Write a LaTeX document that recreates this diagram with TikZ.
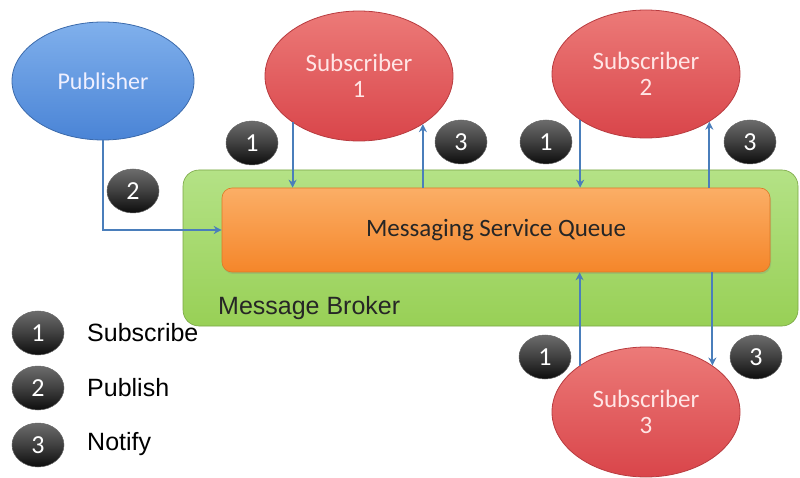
\documentclass[tikz,border=0pt]{standalone}
\usepackage{fontspec}
\setmainfont{Carlito}
\newfontfamily\arialf{Liberation Sans}
\usetikzlibrary{shapes.geometric,arrows.meta,shadows}
\definecolor{arrowblue}{HTML}{4A7EBB}
\definecolor{pubtop}{HTML}{80B0EC}
\definecolor{pubbot}{HTML}{4A84D6}
\definecolor{subtop}{HTML}{EC7A78}
\definecolor{subbot}{HTML}{D9454A}
\definecolor{grtop}{HTML}{B4E286}
\definecolor{grbot}{HTML}{98D056}
\definecolor{ortop}{HTML}{FBAE66}
\definecolor{orbot}{HTML}{F5862A}
\tikzset{
  pubell/.style={ellipse, draw=pubbot!80!black, line width=0.8pt, top color=pubtop, bottom color=pubbot,
    minimum width=182pt, minimum height=118pt, inner sep=0pt, text=white!94!blue, font=\fontsize{24}{26}\selectfont, align=center},
  subell/.style={ellipse, draw=subbot!85!black, line width=0.8pt, top color=subtop, bottom color=subbot,
    minimum width=188pt, minimum height=130pt, inner sep=0pt, text=white!90!red, font=\fontsize{25}{26}\selectfont, align=center},
  badge/.style={ellipse, draw=black!60, line width=0.5pt, top color=gray!85!black, bottom color=black!95,
    middle color=black!75, minimum width=52pt, minimum height=44pt, inner sep=0pt, text=white,
    font=\fontsize{26}{26}\selectfont},
  link/.style={draw=arrowblue, line width=2pt, -{Stealth[length=8pt,width=8pt]}},
  legtext/.style={anchor=west, font=\arialf\fontsize{25}{25}\selectfont, inner sep=0pt}
}
\begin{document}
\begin{tikzpicture}[x=1pt,y=-1pt]
\useasboundingbox (0,0) rectangle (800,478);
% broker
\node[draw=grbot!80!black, line width=0.6pt, rounded corners=16pt, top color=grtop, bottom color=grbot,
  minimum width=615pt, minimum height=156pt, inner sep=0pt] (broker) at (490.5,248) {};
\node[anchor=base west, font=\arialf\fontsize{25}{25}\selectfont, inner sep=0pt, text=black!85] (brokerlbl) at (218,314) {Message Broker};
% queue
\node[draw=orbot!90!black, line width=0.6pt, rounded corners=10pt, top color=ortop, bottom color=orbot,
  minimum width=548pt, minimum height=84pt, inner sep=0pt, drop shadow={opacity=0.25,shadow xshift=1pt,shadow yshift=-2pt},
  font=\fontsize{25}{25}\selectfont, text=black!85] (queue) at (496,230) {Messaging Service Queue};
% ellipses
\node[pubell] (pub) at (103,81) {Publisher};
\node[subell] (sub1) at (359,76) {Subscriber\\1};
\node[subell, minimum height=128pt] (sub2) at (646,74) {Subscriber\\2};
\node[subell] (sub3) at (646,412) {Subscriber\\3};
% connectors
\draw[link] (pub.south) |- (queue.west);
\draw[link] (sub1.215) -- (sub1.215 |- queue.north);
\draw[link] (sub1.323 |- queue.north) -- (sub1.323);
\draw[link] (sub2.215) -- (sub2.215 |- queue.north);
\draw[link] (sub2.323 |- queue.north) -- (sub2.323);
\draw[link] (sub3.145) -- (sub3.145 |- queue.south);
\draw[link] (sub3.35 |- queue.south) -- (sub3.35);
% badges
\node[badge] (b2p) at (133,191) {2};
\node[badge] (b1s1) at (252,143) {1};
\node[badge] (b3s1) at (461,142) {3};
\node[badge] (b1s2) at (546,142) {1};
\node[badge] (b3s2) at (750,142) {3};
\node[badge] (b1s3) at (545,357) {1};
\node[badge] (b3s3) at (756,357) {3};
% legend
\node[badge] (l1) at (38,333) {1};
\node[badge] (l2) at (38,388) {2};
\node[badge] (l3) at (38,445) {3};
\node[legtext] (t1) at (87,333) {Subscribe};
\node[legtext] (t2) at (87,388) {Publish};
\node[legtext] (t3) at (87,444) {Notify};
\end{tikzpicture}
\end{document}
